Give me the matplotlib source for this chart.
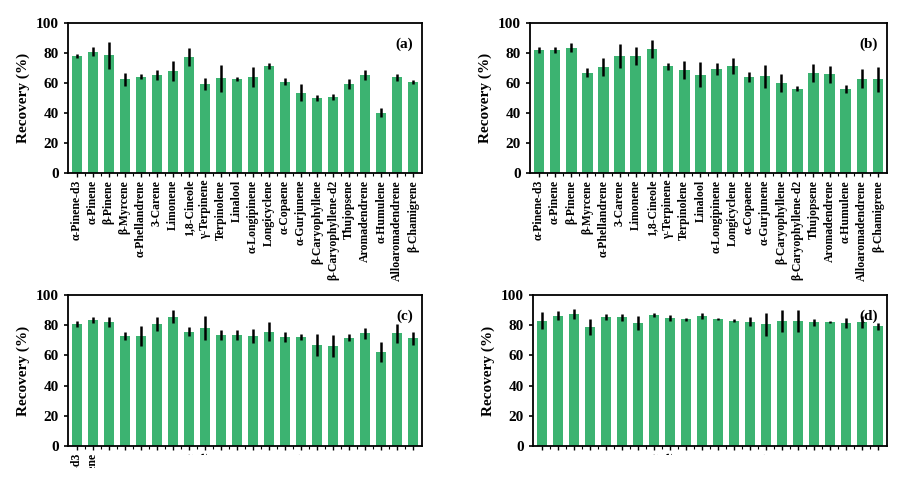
import numpy as np
import matplotlib
matplotlib.use("Agg")
import matplotlib.pyplot as plt
from matplotlib.patches import Rectangle

plt.rcParams['font.family'] = ['Liberation Serif', 'DejaVu Serif']
plt.rcParams['font.weight'] = 'bold'

compounds = ['α-Pinene-d3', 'α-Pinene', 'β-Pinene', 'β-Myrcene', 'α-Phellandrene',
             '3-Carene', 'Limonene', '1,8-Cineole', 'γ-Terpinene', 'Terpinolene',
             'Linalool', 'α-Longipinene', 'Longicyclene', 'α-Copaene', 'α-Gurjunene',
             'β-Caryophyllene', 'β-Caryophyllene-d2', 'Thujopsene', 'Aromadendrene',
             'α-Humulene', 'Alloaromadendrene', 'β-Chamigrene']

# (a)
rec_a = [78.1, 80.8, 78.5, 62.4, 64.2, 65.5, 68.1, 77.4, 59.3, 63.3, 62.4,
         64.2, 71.5, 61.0, 53.5, 50.0, 50.7, 59.5, 65.5, 40.3, 63.7, 60.8]
err_a = [1.3, 3.0, 9.0, 4.4, 1.5, 3.3, 6.7, 6.0, 3.8, 9.0, 1.3,
         6.6, 1.9, 2.2, 5.8, 1.7, 2.2, 3.3, 3.5, 3.0, 2.2, 1.5]
# (b)
rec_b = [81.9, 81.9, 83.4, 66.8, 70.8, 78.1, 78.1, 82.7, 71.2, 69.0, 65.5,
         69.5, 71.2, 64.2, 64.4, 59.7, 56.2, 66.8, 65.9, 56.0, 63.0, 62.4]
err_b = [2.2, 1.8, 3.0, 3.0, 5.9, 7.8, 6.2, 5.8, 2.2, 6.0, 8.2,
         4.1, 5.5, 3.4, 7.4, 6.0, 1.5, 6.1, 5.6, 2.4, 6.1, 8.3]
# (c)
rec_c = [80.8, 83.4, 82.3, 72.8, 72.8, 80.8, 85.6, 75.7, 77.9, 73.5, 73.5,
         72.8, 75.7, 71.9, 72.3, 66.9, 66.2, 71.7, 74.6, 62.2, 74.6, 71.3]
err_c = [1.8, 2.2, 3.3, 2.5, 6.9, 4.4, 4.4, 3.1, 8.0, 3.3, 3.1,
         4.6, 6.4, 3.3, 2.2, 7.0, 7.0, 2.4, 3.5, 6.8, 6.5, 4.5]
# (d)
rec_d = [83.0, 86.3, 87.4, 79.0, 85.2, 85.2, 81.6, 86.9, 84.7, 84.0, 86.1,
         84.0, 83.0, 82.3, 80.5, 83.0, 82.5, 81.9, 81.9, 81.4, 81.9, 79.4]
err_d = [5.6, 2.8, 3.2, 5.2, 2.0, 2.4, 4.5, 1.3, 1.9, 0.9, 2.2,
         0.8, 0.8, 2.9, 7.7, 7.2, 7.3, 2.5, 0.7, 3.3, 3.9, 2.3]

panels = [('(a)', rec_a, err_a, [68, 173, 422, 23]),
          ('(b)', rec_b, err_b, [530, 173, 887, 23]),
          ('(c)', rec_c, err_c, [68, 446, 422, 295]),
          ('(d)', rec_d, err_d, [533, 446, 887, 295])]

W, H = 903, 488
fig = plt.figure(figsize=(W / 100, H / 100), dpi=100)

x = np.arange(len(compounds))
for tag, rec, err, (l, b, r, t) in panels:
    ax = fig.add_axes([l / W, 1 - b / H, (r - l) / W, (b - t) / H])
    ax.bar(x, rec, width=0.66, color='#3CB371', zorder=2)
    ax.errorbar(x, rec, yerr=err, fmt='none', ecolor='black', elinewidth=1.8,
                capsize=0, zorder=3)
    ax.set_xlim(-0.55, len(compounds) - 0.45)
    ax.set_ylim(0, 100)
    ax.set_yticks(range(0, 101, 20))
    ax.set_xticks(x)
    ax.set_xticks(x[:-1] + 0.5, minor=True)
    ax.set_xticklabels(compounds, rotation=90, fontsize=8.5, fontweight='bold')
    ax.tick_params(axis='y', labelsize=11, width=1.2, length=3, direction='out')
    ax.tick_params(axis='x', which='major', width=1.0, length=3, direction='out', pad=2)
    ax.tick_params(axis='x', which='minor', width=0.8, length=2, direction='out')
    for sp in ax.spines.values():
        sp.set_linewidth(1.3)
    ax.set_ylabel('Recovery (%)', fontsize=11, fontweight='bold', labelpad=4)
    ax.text(0.975, 0.86, tag, transform=ax.transAxes, ha='right', va='center',
            fontsize=11, fontweight='bold')

# the reference is cropped just under the bottom row of tick labels
fig.patches.append(Rectangle((105 / W, 0), 1, (H - 455) / H, transform=fig.transFigure,
                             facecolor='white', edgecolor='none', zorder=10))
fig.patches.append(Rectangle((0, 0), 105 / W, (H - 468) / H, transform=fig.transFigure,
                             facecolor='white', edgecolor='none', zorder=10))

fig.savefig('out.png', dpi=100, facecolor='white')
